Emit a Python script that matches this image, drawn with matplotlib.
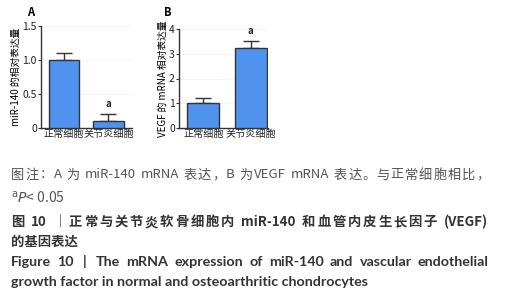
import re
import matplotlib
matplotlib.use("Agg")
import matplotlib.pyplot as plt
import matplotlib.transforms as mtransforms

plt.rcParams['font.family'] = ['Noto Sans CJK SC', 'DejaVu Sans']

groups = ['正常细胞', '关节炎细胞']
mir140 = [1.0, 0.1]
mir140_err = [0.1, 0.1]
vegf = [1.0, 3.25]
vegf_err = [0.2, 0.25]

note_line = '图注：A 为 miR-140 mRNA 表达，B 为VEGF mRNA 表达。与正常细胞相比，'
title_cn = ['图 10 ｜正常与关节炎软骨细胞内 miR-140 和血管内皮生长因子 (VEGF)', '的基因表达']
title_en = ['Figure 10  |  The mRNA expression of miR-140 and vascular endothelial',
            'growth factor in normal and osteoarthritic chondrocytes']

BAR = '#4f93ee'
EDGE = '#333333'
W, H = 506, 300


def panel(ax, vals, errs, ylim, yticks, yticklabels, ylabel, xlim, shifts):
    x = list(range(len(groups)))
    ax.bar(x, vals, width=0.68, color=BAR, edgecolor=EDGE, linewidth=1.0, zorder=3)
    ax.errorbar(x, vals, yerr=[[0] * len(errs), errs], fmt='none', ecolor=EDGE,
                elinewidth=1.0, capsize=6, capthick=1.0, zorder=2)
    ax.set_xlim(*xlim)
    ax.set_ylim(*ylim)
    ax.set_yticks(yticks)
    ax.set_yticklabels(yticklabels, fontsize=7.5, color='#222222')
    ax.set_xticks(x)
    ax.set_xticklabels(groups, fontsize=7.3, color='#222222')
    for lab, dx in zip(ax.get_xticklabels(), shifts):
        lab.set_transform(lab.get_transform() +
                          mtransforms.ScaledTranslation(dx / 100, 0, ax.figure.dpi_scale_trans))
    ax.tick_params(axis='x', length=0, pad=1)
    ax.tick_params(axis='y', length=2, width=0.8, pad=1, color=EDGE)
    ax.set_ylabel(ylabel, fontsize=7, labelpad=1)
    for s in ['top', 'right']:
        ax.spines[s].set_visible(False)
    for s in ['left', 'bottom']:
        ax.spines[s].set_color(EDGE)
        ax.spines[s].set_linewidth(1.0)
    ax.grid(axis='y', color='#f0f0f0', linewidth=0.5, zorder=0)
    ax.set_axisbelow(True)


def justified(fig, line, x0, x1, ypx, space=3, **kw):
    # spread tokens so that the line fills x0..x1 (the journal justifies its captions)
    renderer = fig.canvas.get_renderer()
    tokens = re.findall(r'[A-Za-z0-9\-\.\(\)]+|\s+|\S', line)
    texts, widths = [], []
    for tok in tokens:
        if tok.isspace():
            texts.append(None)
            widths.append(space * len(tok))
        else:
            t = fig.text(0, 1 - ypx / H, tok, va='center', **kw)
            texts.append(t)
            widths.append(t.get_window_extent(renderer).width)
    gap = max(0, (x1 - x0 - sum(widths)) / (len(tokens) - 1))
    x = x0
    for t, w in zip(texts, widths):
        if t is not None:
            t.set_x(x / W)
        x += w + gap


fig = plt.figure(figsize=(5.06, 3.0), dpi=100)

axA = fig.add_axes([41 / W, 1 - 128 / H, 91 / W, 102 / H])
panel(axA, mir140, mir140_err, (0, 1.5), [0, 0.5, 1.0, 1.5],
      ['0', '0.5', '1.0', '1.5'], 'miR-140 的相对表达量', (-0.52, 1.53), [-4, 11])
axA.text(1, mir140[1] + mir140_err[1] + 0.08, 'a', ha='center', va='bottom',
         fontsize=7, fontweight='bold', color='#222222')

axB = fig.add_axes([179 / W, 1 - 128 / H, 89 / W, 99 / H])
panel(axB, vegf, vegf_err, (0, 4), [0, 1, 2, 3, 4],
      ['0', '1', '2', '3', '4'], 'VEGF 的 mRNA 相对表达量', (-0.52, 1.37), [-3, 8])
axB.text(1, vegf[1] + vegf_err[1] + 0.2, 'a', ha='center', va='bottom',
         fontsize=7, fontweight='bold', color='#222222')

fig.text(27 / W, 1 - 12 / H, 'A', fontsize=8, fontweight='bold', ha='left', va='center')
fig.text(164 / W, 1 - 12 / H, 'B', fontsize=8, fontweight='bold', ha='left', va='center')

gray = '#555555'
dark = '#333333'

justified(fig, note_line, 11, 489, 175, fontsize=9.5, color=gray)
fig.text(11 / W, 1 - 198 / H, r'$^{\mathrm{a}}$$\it{P}$< 0.05', fontsize=10, color=gray, va='center')
justified(fig, title_cn[0], 11, 488, 222, fontsize=9.6, color=dark, fontweight='bold')
fig.text(11 / W, 1 - 242 / H, title_cn[1], fontsize=9.6, color=dark, fontweight='bold', va='center')
justified(fig, title_en[0], 11, 489, 262, space=3, fontsize=10.3, color=dark, fontweight='bold',
          family=['Lato', 'DejaVu Sans'])
fig.text(11 / W, 1 - 282 / H, title_en[1], fontsize=10.3, color=dark, fontweight='bold', va='center',
         family=['Lato', 'DejaVu Sans'])

fig.savefig('out.png', dpi=100)
